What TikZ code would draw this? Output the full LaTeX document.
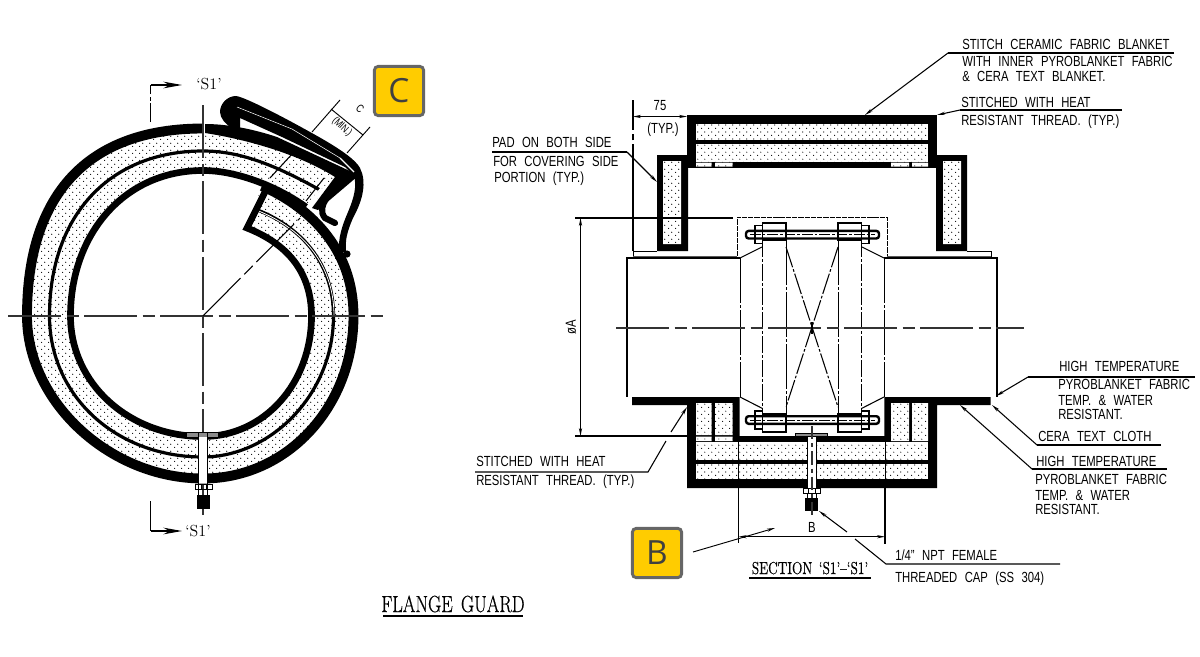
\documentclass[tikz,border=0pt]{standalone}
\usepackage{fontspec}
\usetikzlibrary{arrows.meta,patterns}
\newfontfamily\cad{Liberation Sans}[FakeStretch=0.77,WordSpace=2.35]
\newfontfamily\cadser{Latin Modern Roman}[FakeStretch=0.78,WordSpace=1.5,FakeBold=0.5]
\newfontfamily\badgefont{Open Sans}
\pgfdeclarepatternformonly{stip}{\pgfpointorigin}{\pgfqpoint{5pt}{5pt}}{\pgfqpoint{5pt}{5pt}}{%
  \pgfpathcircle{\pgfqpoint{1.25pt}{1.25pt}}{0.45pt}\pgfpathcircle{\pgfqpoint{3.75pt}{3.75pt}}{0.45pt}\pgfusepath{fill}}
\definecolor{badge}{HTML}{FFCC00}
\definecolor{axis}{HTML}{333333}
\tikzset{
  wall/.style={line width=7.4pt,black},
  stipfill/.style={fill=white,postaction={pattern=stip,pattern color=black}},
  thin1/.style={line width=0.8pt,black},
  axisl/.style={line width=0.9pt,axis,dash pattern=on 40pt off 4pt on 9pt off 4pt},
  dd/.style={line width=0.75pt,black,dash pattern=on 13pt off 1.5pt on 2pt off 1.5pt},
  ddl/.style={line width=0.7pt,black,dash pattern=on 34pt off 1.5pt on 2pt off 1.5pt},
  lbl/.style={font=\cad\fontsize{11}{12}\selectfont,anchor=base west,inner sep=0pt,text=black},
  ser/.style={font=\fontsize{12}{13}\selectfont,inner sep=0pt},
  tip/.style={-{Stealth[length=6pt,width=2.4pt]}},
  tips/.style={{Stealth[length=6pt,width=2.4pt]}-{Stealth[length=6pt,width=2.4pt]}},
  bigtip/.style={-{Stealth[length=14pt,width=5pt]}},
  cell/.style={stipfill,draw=none},
  badgebox/.style={draw=black!60,line width=2.2pt,fill=badge,rounded corners=3pt,minimum size=37pt,inner sep=0pt,font=\badgefont\fontsize{25}{25}\selectfont,text=black!75},
}
\newcommand{\flbolt}[1]{%
  \begin{scope}[shift={(0,#1)}]
    \draw[line width=0.8pt,fill=white] (755,-9) rectangle (762.5,9) (861.5,-9) rectangle (869,9);
    \draw[line width=0.6pt] (755,-4) -- (762.5,-4) (755,4) -- (762.5,4) (861.5,-4) -- (869,-4) (861.5,4) -- (869,4);
    \draw[line width=1.8pt,rounded corners=2pt] (746,-3.8) rectangle (879,3.8);
    \draw[line width=0.6pt,dash pattern=on 8pt off 1.5pt on 2pt off 1.5pt] (750,0) -- (875,0);
  \end{scope}}
\begin{document}
\begin{tikzpicture}[x=0.75pt,y=-0.75pt,line join=miter]
\useasboundingbox (0,0) rectangle (1200,657);
% ---------- ring: stipple band
\path[stipfill] (262,186) .. controls (305,205) and (353.5,245) .. (353.5,316)
  .. controls (353.5,407) and (287,478.5) .. (203,478.5)
  .. controls (110,478.5) and (27,402) .. (27,316)
  .. controls (27,194) and (88,128.5) .. (203,128.5)
  .. controls (240,128.5) and (285,143) .. (345,177) -- (305,208)
  .. controls (275,188) and (235,170.5) .. (203,170.5)
  .. controls (123.5,170.5) and (70.5,235) .. (70.5,316)
  .. controls (70.5,383.5) and (129,436.5) .. (203,436.5)
  .. controls (264,436.5) and (311.5,383.5) .. (311.5,316)
  .. controls (311.5,270) and (285,243) .. (247,228) -- cycle;
% middle line
\draw[line width=2.4pt] (255,209) .. controls (300,226) and (333.5,262) .. (333.5,316)
  .. controls (333.5,395) and (270,457) .. (203,457)
  .. controls (115,457) and (49.5,395) .. (49.5,316)
  .. controls (49.5,215) and (110,151) .. (203,151)
  .. controls (240,151) and (275,165) .. (320,190);
\draw[white,line width=0.6pt] (255,209.6) .. controls (300,226.6) and (334,262) .. (334,316);
% walls
\draw[wall] (262,186) .. controls (305,205) and (353.5,245) .. (353.5,316)
  .. controls (353.5,407) and (287,478.5) .. (203,478.5)
  .. controls (110,478.5) and (27,402) .. (27,316)
  .. controls (27,194) and (88,128.5) .. (203,128.5);
\draw[line width=5pt] (203,170.5) .. controls (123.5,170.5) and (70.5,235) .. (70.5,316)
  .. controls (70.5,383.5) and (129,436.5) .. (203,436.5)
  .. controls (264,436.5) and (311.5,383.5) .. (311.5,316)
  .. controls (311.5,270) and (285,243) .. (247,228) -- (265,192);
\draw[line width=5pt] (203,170.5) .. controls (235,170.5) and (275,185) .. (306,207);
% top wedge
\fill (205,124) .. controls (225,124) and (250,128) .. (277,137) -- (352,172) -- (358,176)
  -- (318,210) -- (312,208) -- (335,177) .. controls (300,155) and (250,140) .. (205,133) -- cycle;
% radial lines and band end
\draw[thin1] (293,153) -- (270,178);
\draw[white,line width=1.2pt] (329,178) -- (311,201);
\draw[thin1] (324,178) -- (306,201);
% flap
\fill (232,128) .. controls (226,125) and (220,118) .. (220,112)
  .. controls (220,104) and (227,96) .. (236,96)
  .. controls (245,97) and (285,118) .. (310,132)
  .. controls (330,143) and (354,157) .. (360,168)
  .. controls (367,182) and (363,200) .. (353,218)
  .. controls (347,232) and (345,240) .. (346,252)
  -- (339,252) .. controls (338,238) and (342,226) .. (348,212)
  .. controls (354,198) and (357,186) .. (354,176)
  -- (345,167) -- (282,137) -- (240,118) -- (240,128) -- cycle;
\fill (347,254) circle[radius=3.6];
\draw[white,line width=0.4pt] (237,107) -- (292,129) -- (340,158);
\draw[white,line width=0.8pt] (340,158) -- (354,172);
% bead
\draw[line width=4.6pt,line cap=round] (326,199) .. controls (322,205) and (320,212) .. (325,218) -- (335,223);
% axes
\draw[axisl] (8,316) -- (383,316);
\draw[axisl] (203,105) -- (203,515);
\draw[line width=0.8pt,dash pattern=on 40pt off 4pt on 9pt off 4pt] (203,316) -- (300,218);
% bolt on ring
\draw[line width=0.6pt,fill=black!45] (186,432) rectangle (218,437);
\fill[white] (198,437) rectangle (207,483);
\draw[line width=0.7pt] (198,433) -- (198,497) (207,433) -- (207,497);
\draw[line width=0.6pt] (195,484) rectangle (212,489) (201,484) -- (201,489) (206,484) -- (206,489);
\fill (197,495) rectangle (210,509);
\draw[axis,line width=0.8pt] (203,509) -- (203,513);
% section marks
\draw[line width=0.8pt,dash pattern=on 14pt off 2pt on 3pt off 2pt] (150.5,122) -- (150.5,85);
\coordinate (sa1) at (150.5,85); \coordinate (sa2) at (182,85);
\draw[line width=0.8pt,bigtip] (sa1) -- (sa2);
\node[ser] (s1a) at (209,84) {‘S1’};
\coordinate (sb1) at (150.5,531); \coordinate (sb2) at (182,531);
\draw[line width=0.8pt] (150.5,501) -- (sb1);
\draw[line width=0.8pt,bigtip] (sb1) -- (sb2);
\node[ser] (s1b) at (198,531) {‘S1’};
% C dimension
\draw[line width=0.7pt] (340,100) -- (312,132) (370,127) -- (347,153);
\draw[line width=0.7pt] (331,109) -- (363,135);
\node[font=\cad\fontsize{8.5}{9}\selectfont,rotate=-42,inner sep=0pt] (cdim) at (360,109) {C};
\node[font=\cad\fontsize{8}{9}\selectfont,rotate=-43,inner sep=0pt] (cmin) at (342,127) {(MIN.)};
% badges
\node[badgebox] (bc) at (399,91) {C};
\node[badgebox] (bb) at (657,553) {B};
% ---------- section view: top cover
\fill (687,115) rectangle (937,168);
\path[cell] (696,124) rectangle (928,140);
\path[cell] (696,143.5) rectangle (928,162);
\path[cell] (696,162.5) rectangle (711.7,166.5) (715,162.5) rectangle (732.7,166.5) (891,162.5) rectangle (909,166.5) (912,162.5) rectangle (928,166.5);
% side pads
\fill (657,155) rectangle (688,251) (936,155) rectangle (967,251);
\path[cell] (663,161) rectangle (681,244) (943,161) rectangle (961,244);
% flange strip
\draw[line width=0.7pt] (633,257) -- (633,251) -- (657,251) (967,251) -- (991,251) -- (991,257);
\draw[line width=1.5pt,black!65] (633,257) -- (737,257) (887,257) -- (991,257);
% pipes
\draw[line width=0.8pt] (740,258) -- (627,258) -- (627,397);
\draw[line width=0.8pt] (884,258) -- (997,258) -- (997,397);
\draw[ddl] (740,258) -- (740,397) (884,258) -- (884,397);
\draw[line width=0.8pt] (740,258) -- (762,247) (884,258) -- (862,247);
\draw[line width=0.8pt] (740,397) -- (762.5,408.5) (884,397) -- (861.5,408.5);
\draw[line width=0.6pt,dash pattern=on 4pt off 0.7pt] (737,256) -- (737,217) -- (887,217) -- (887,256);
% flange internals
\draw[dd] (762.5,240) -- (762.5,413) (861.5,240) -- (861.5,413);
\draw[ddl] (786,240) -- (786,413) (838,240) -- (838,413);
\draw[line width=0.8pt,dash pattern=on 16pt off 1.5pt on 2pt off 1.5pt] (786,247) -- (838,407) (838,247) -- (786,407);
\draw[line width=0.8pt] (762.5,223) rectangle (786,240) (838,223) rectangle (861.5,240);
\draw[line width=0.8pt] (762.5,414) rectangle (786,432) (838,414) rectangle (861.5,432);
\flbolt{234.7}
\flbolt{420}
% bottom cover
\fill (632,397) -- (739.5,397) -- (739.5,436) -- (884.3,436) -- (884.3,397) -- (990.7,397) -- (990.7,405) -- (937,405) -- (937,488) -- (687,488) -- (687,405) -- (632,405) -- cycle;
\path[cell] (696,403) rectangle (711.7,435) (715,403) rectangle (732.7,435) (891,403) rectangle (909,441) (912,403) rectangle (928,441);
\path[cell] (696,436.7) rectangle (711.7,441) (715,436.7) rectangle (732.7,441);
\path[cell] (696,442) rectangle (928,460);
\path[cell] (696,463.7) rectangle (928,479.3);
\draw[line width=0.6pt] (738.7,442) -- (738.7,479.3) (885,442) -- (885,479.3);
% bottom bolt
\fill[white] (807.5,436) rectangle (816.7,488);
\draw[line width=0.8pt] (807.5,434) -- (807.5,500) (816.7,434) -- (816.7,500);
\draw[line width=0.6pt,fill=black!45] (795.7,433) rectangle (827.7,436.5);
\draw[line width=0.6pt,fill=white] (803,488) rectangle (820,493.5) (808,488) -- (808,493.5) (815,488) -- (815,493.5);
\fill (805,498) rectangle (818.3,511);
\draw[axis,line width=0.9pt,dash pattern=on 10pt off 3pt on 3pt off 3pt] (812,426) -- (812,516);
% centre line
\draw[axis,line width=0.9pt,dash pattern=on 40pt off 4pt on 9pt off 4pt] (616,328) -- (1024,328);
\draw[line width=0.8pt] (812,322) -- (812,334);
% 75 dimension
\draw[line width=0.8pt,dash pattern=on 80pt off 3pt on 5pt off 3pt] (633,251) -- (633,100);
\coordinate (d75a) at (633,116.5); \coordinate (d75b) at (687,116.5);
\draw[line width=0.7pt,tips] (d75a) -- (d75b);
\node[lbl,anchor=center] (t75) at (660,106) {75};
\node[lbl,anchor=center] (typ) at (663,130) {(TYP.)};
% A dimension
\draw[line width=0.8pt] (575,218) -- (733,218) (575,436) -- (687,436);
\coordinate (dA1) at (580.5,218); \coordinate (dA2) at (580.5,436);
\draw[line width=0.7pt,tips] (dA1) -- (dA2);
\node[lbl,anchor=center,rotate=90] (tA) at (571,327) {øA};
% B dimension
\draw[line width=0.8pt] (738.7,488) -- (738.7,543) (885,488) -- (885,544);
\coordinate (dB1) at (738.7,536.7); \coordinate (dB2) at (885,536.7);
\draw[line width=0.7pt,tips] (dB1) -- (dB2);
\node[lbl,anchor=center] (tB) at (812,527) {B};
\coordinate (bfree) at (693,552); \coordinate (bend) at (775,528);
\draw[line width=0.7pt,tip] (bfree) -- (bend);
% labels and leaders
\node[lbl] (l1a) at (962,49) {STITCH CERAMIC FABRIC BLANKET};
\node[lbl] (l1b) at (962,66.7) {WITH INNER PYROBLANKET FABRIC};
\node[lbl] (l1c) at (962,81.7) {\& CERA TEXT BLANKET.};
\draw[line width=0.8pt] (1174,53) -- (948,53);
\draw[line width=0.8pt,tip] (948,53) -- (865,115);
\node[lbl] (l2a) at (961,107) {STITCHED WITH HEAT};
\node[lbl] (l2b) at (961,125) {RESISTANT THREAD. (TYP.)};
\draw[line width=0.8pt] (1122,110) -- (960,110);
\draw[line width=0.8pt,tip] (960,110) -- (937,115);
\node[lbl] (l3a) at (492,147) {PAD ON BOTH SIDE};
\node[lbl] (l3b) at (493,166) {FOR COVERING SIDE};
\node[lbl] (l3c) at (494,182) {PORTION (TYP.)};
\draw[line width=0.8pt] (492,152) -- (627,152);
\draw[line width=0.8pt,tip] (627,152) -- (657,182);
\node[lbl] (l4a) at (1059,371.7) {HIGH TEMPERATURE};
\node[lbl] (l4b) at (1058,389) {PYROBLANKET FABRIC};
\node[lbl] (l4c) at (1058,405) {TEMP. \& WATER};
\node[lbl] (l4d) at (1058,419) {RESISTANT.};
\draw[line width=0.8pt] (1195,377) -- (1028,377);
\draw[line width=0.8pt,tip] (1028,377) -- (996,396);
\node[lbl] (l5) at (1038,441) {CERA TEXT CLOTH};
\draw[line width=0.8pt] (1161,445) -- (1037,445);
\draw[line width=0.8pt,tip] (1037,445) -- (992,405);
\node[lbl] (l6a) at (1036,466.7) {HIGH TEMPERATURE};
\node[lbl] (l6b) at (1035,484) {PYROBLANKET FABRIC};
\node[lbl] (l6c) at (1035,500) {TEMP. \& WATER};
\node[lbl] (l6d) at (1035,514) {RESISTANT.};
\draw[line width=0.8pt] (1167,469) -- (1032,469);
\draw[line width=0.8pt,tip] (1032,469) -- (960,405);
\node[lbl] (l7a) at (476,466) {STITCHED WITH HEAT};
\node[lbl] (l7b) at (476,485) {RESISTANT THREAD. (TYP.)};
\draw[line width=0.8pt] (475,472) -- (648,472) -- (666,441);
\draw[line width=0.8pt,tip] (671,432) -- (687,407);
\node[lbl] (l8a) at (895,560) {1/4” NPT FEMALE};
\node[lbl] (l8b) at (895,582) {THREADED CAP (SS 304)};
\draw[line width=0.8pt] (1060,564) -- (886,564) -- (855,539);
\draw[line width=0.8pt,tip] (847,532) -- (819,511);
\node[font=\cadser\fontsize{13}{14}\selectfont,inner sep=0pt,anchor=base] (sec) at (810,574) {SECTION ‘S1’–‘S1’};
\draw[line width=0.9pt] (749,578) -- (871,578);
\node[font=\cadser\fontsize{17.5}{18}\selectfont,inner sep=0pt,anchor=base] (fg) at (453,612) {FLANGE GUARD};
\draw[line width=0.9pt] (383,616) -- (523,616);
\end{tikzpicture}
\end{document}
